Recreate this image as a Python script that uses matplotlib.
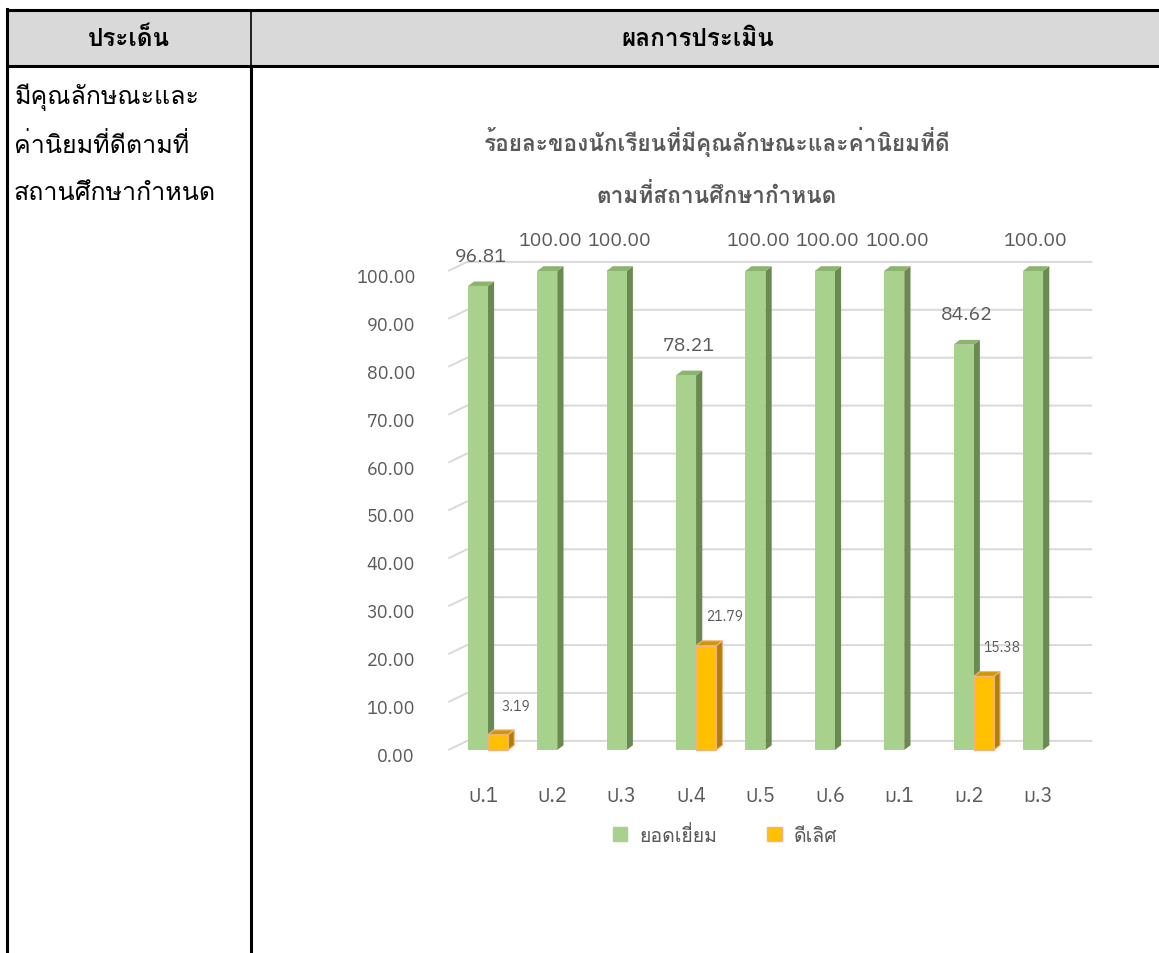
import matplotlib
matplotlib.use('Agg')
import matplotlib.pyplot as plt
from matplotlib.patches import Rectangle, Polygon, Patch
from matplotlib.transforms import ScaledTranslation

# data
categories = ['ป.1', 'ป.2', 'ป.3', 'ป.4', 'ป.5', 'ป.6', 'ม.1', 'ม.2', 'ม.3']
excellent = [96.81, 100.00, 100.00, 78.21, 100.00, 100.00, 100.00, 84.62, 100.00]
very_good = [3.19, 0, 0, 21.79, 0, 0, 0, 15.38, 0]
series_names = ['ยอดเยี่ยม', 'ดีเลิศ']
y_ticks = [0, 10, 20, 30, 40, 50, 60, 70, 80, 90, 100]
chart_title = ['ร้อยละของนักเรียนที่มีคุณลักษณะและค่านิยมที่ดี', 'ตามที่สถานศึกษากำหนด']
col_heads = ['ประเด็น', 'ผลการประเมิน']
row_text = ['มีคุณลักษณะและ', 'ค่านิยมที่ดีตามที่', 'สถานศึกษากำหนด']

W, H = 1159, 954
CHART_FONT = ['IBM Plex Sans Thai', 'Noto Sans Thai UI', 'DejaVu Sans']
# Loma keeps stacked tone marks (ที่) readable without text shaping
THAI_FONT = ['Loma', 'Noto Sans Thai Looped', 'DejaVu Sans']
GREY = '#595959'

fig = plt.figure(figsize=(W / 100, H / 100), dpi=100)

# table background (pixel coordinates)
bg = fig.add_axes([0, 0, 1, 1])
bg.set_xlim(0, W)
bg.set_ylim(H, 0)
bg.axis('off')
bg.add_patch(Rectangle((7, 11), W - 7, 56, facecolor='#d9d9d9', edgecolor='none'))
bg.plot([7, W], [11, 11], color='black', lw=2.2)
bg.plot([7, W], [67, 67], color='black', lw=2.2)
bg.plot([7, 7], [10, H], color='black', lw=2.2)
bg.plot([251, 251], [11, 67], color='black', lw=1.2)
bg.plot([251, 251], [67, H], color='black', lw=2.2)
bg.text(129, 39, col_heads[0], family=THAI_FONT, fontweight='bold', fontsize=17.5,
        ha='center', va='center')
bg.text(698, 39, col_heads[1], family=THAI_FONT, fontweight='bold', fontsize=17.5,
        ha='center', va='center')
for i, t in enumerate(row_text):
    bg.text(14, 97 + i * 48.5, t, family=THAI_FONT, fontsize=18, ha='left', va='center')

# chart axes, placed so that category 0 -> x=483 px, value 0 -> y=751 px, 100 -> 272 px
px_cat = 69.4
px_val = 4.79
ax_l, ax_r, ax_t, ax_b = 440, 1100, 230, 762
ax = fig.add_axes([ax_l / W, 1 - ax_b / H, (ax_r - ax_l) / W, (ax_b - ax_t) / H])
ax.set_xlim((ax_l - 483) / px_cat, (ax_r - 483) / px_cat)
ax.set_ylim(-(ax_b - 751) / px_val, (751 - ax_t) / px_val)
ax.patch.set_alpha(0)
for s in ax.spines.values():
    s.set_visible(False)

# back-wall gridlines with the small floor diagonal on the left
wall_dy = 1.9
for v in y_ticks:
    ax.plot([-0.5, -0.23, 8.78], [v, v + wall_dy, v + wall_dy], color='#d9d9d9', lw=1.4, zorder=1,
            solid_capstyle='butt')

w, dx, dy = 0.29, 0.09, 1.0


def bar3d(x0, h, front, side, top, edge, z):
    ax.add_patch(Polygon([(x0 + w, 0), (x0 + w + dx, dy), (x0 + w + dx, h + dy), (x0 + w, h)],
                         closed=True, facecolor=side, edgecolor=edge, lw=0.8, zorder=z))
    ax.add_patch(Polygon([(x0, h), (x0 + dx, h + dy), (x0 + w + dx, h + dy), (x0 + w, h)],
                         closed=True, facecolor=top, edgecolor=edge, lw=0.8, zorder=z))
    ax.add_patch(Rectangle((x0, 0), w, h, facecolor=front, edgecolor=edge, lw=0.8, zorder=z))


for i, v in enumerate(excellent):
    x0 = i - 0.22
    bar3d(x0, v, '#a9d18e', '#6b8a52', '#8db36f', 'none', 3)
    ax.annotate(f'{v:.2f}', (x0 + (w + dx) / 2, v), xytext=(0, 22), textcoords='offset points',
                ha='center', va='center', fontsize=14, color=GREY, family=CHART_FONT)

for i, v in enumerate(very_good):
    if v <= 0:
        continue
    x0 = i + 0.07
    bar3d(x0, v, '#ffc000', '#b08000', '#cc9a00', '#f4b183', 4)
    ax.annotate(f'{v:.2f}', (x0 + w / 2, v), xytext=(13, 21), textcoords='offset points',
                ha='center', va='center', fontsize=10, color=GREY, family=CHART_FONT)

ax.set_xticks(range(len(categories)))
ax.set_xticklabels(categories, family=CHART_FONT, fontsize=14.5, color=GREY)
ax.set_yticks(y_ticks)
ax.set_yticklabels([f'{v:.2f}' for v in y_ticks], family=CHART_FONT, fontsize=13, color=GREY)
ax.tick_params(axis='both', length=0)
ax.tick_params(axis='x', pad=18)
ax.tick_params(axis='y', pad=18)
for lab in ax.get_yticklabels():
    lab.set_transform(lab.get_transform() + ScaledTranslation(0, -0.04, fig.dpi_scale_trans))

# title
fig.text(717 / W, 1 - 142 / H, chart_title[0], family=THAI_FONT, fontweight='bold',
         fontsize=16.3, color=GREY, ha='center', va='center')
fig.text(717 / W, 1 - 195 / H, chart_title[1], family=THAI_FONT, fontweight='bold',
         fontsize=16.3, color=GREY, ha='center', va='center')

# legend
handles = [Patch(facecolor='#a9d18e', edgecolor='#a9d18e'),
           Patch(facecolor='#ffc000', edgecolor='#f4b183')]
leg = fig.legend(handles, series_names, loc='center', bbox_to_anchor=(725 / W, 1 - 836 / H),
                 ncol=2, frameon=False, handlelength=0.75, handleheight=0.75, handletextpad=0.6,
                 columnspacing=2.6, prop={'family': THAI_FONT, 'size': 14})
for t in leg.get_texts():
    t.set_color(GREY)

fig.savefig('out.png', dpi=100)
